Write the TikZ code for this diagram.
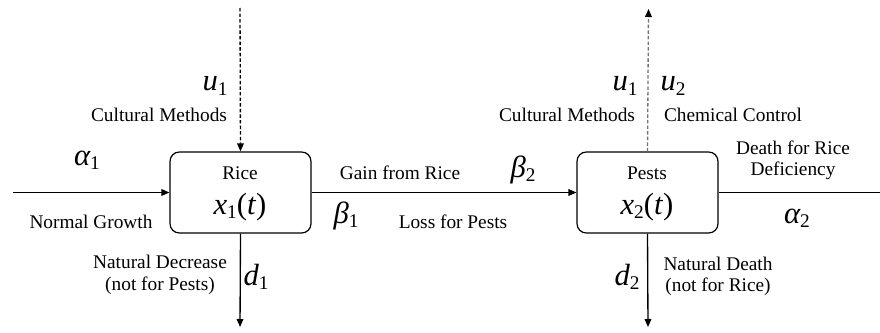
\documentclass[tikz,border=0pt]{standalone}
\usepackage{fontspec}
\setmainfont{Liberation Serif}[ItalicFont={Liberation Serif Italic},BoldFont={Liberation Serif Bold}]
\usetikzlibrary{arrows.meta}
\newcommand\lbl{\fontsize{14.5}{16}\selectfont}
\newcommand\mth{\fontsize{23}{25}\selectfont}
\newcommand\vsub[2]{{\mth\itshape #1}\raisebox{-0.5ex}{\fontsize{14.5}{15}\selectfont\upshape #2}}
\begin{document}
\begin{tikzpicture}[x=0.75pt,y=-0.75pt,
  box/.style={draw,line width=0.9pt,rounded corners=7pt,minimum width=105.75pt,minimum height=60.75pt,inner sep=0pt},
  flow/.style={line width=1pt,-{Triangle[length=6pt,width=5pt]}},
  ctl/.style={line width=1pt,dash pattern=on 2.6pt off 1.6pt},
  txt/.style={inner sep=0pt,align=center,font=\lbl}]
\useasboundingbox (0,0) rectangle (880,332);
\node[box] (rice) at (240.5,192.5) {};
\node[box] (pests) at (647.5,192.5) {};
\node[txt] (ricet) at (240,173) {Rice};
\node[txt] (ricex) at (240,207) {\vsub{x}{1}{\mth(\textit{t})}};
\node[txt] (pestt) at (647,173) {Pests};
\node[txt] (pestx) at (647,207) {\vsub{x}{2}{\mth(\textit{t})}};
\coordinate (lin) at (13,192.5);
\coordinate (rout) at (880,192.5);
\coordinate (ctop) at (240,8);
\coordinate (ptop) at (648.5,9);
\coordinate (rbot) at (240,327);
\coordinate (pbot) at (648,327);
\draw[flow] (lin) -- (rice.west);
\draw[flow] (rice.east) -- (pests.west);
\draw[line width=1pt] (pests.east) -- (rout);
\draw[ctl,-{Triangle[length=6pt,width=5pt]}] (ctop) -- (rice.north);
\draw[ctl,draw=black!55,-{Triangle[length=6pt,width=5pt,color=black]}] (pests.north) -- (ptop);
\draw[flow] (rice.south) -- (rbot);
\draw[flow] (pests.south) -- (pbot);
% labels
\node[txt] (u1a) at (215,86) {\vsub{u}{1}};
\node[txt] (cm1) at (159,115) {Cultural Methods};
\node[txt] (u1b) at (625,86) {\vsub{u}{1}};
\node[txt] (u2) at (673,86) {\vsub{u}{2}};
\node[txt] (cm2) at (567,115) {Cultural Methods};
\node[txt] (cc) at (733,115) {Chemical Control};
\node[txt] (a1) at (87,160) {\vsub{α}{1}};
\node[txt] (ng) at (91,222) {Normal Growth};
\node[txt] (gain) at (400,173) {Gain from Rice};
\node[txt] (b1) at (346,216) {\vsub{β}{1}};
\node[txt] (b2) at (523,170) {\vsub{β}{2}};
\node[txt] (loss) at (453,222) {Loss for Pests};
\node[txt] (death) at (793,160.5) {Death for Rice\\Deficiency};
\node[txt] (a2) at (797,218) {\vsub{α}{2}};
\node[txt] (nd1) at (160,275) {Natural Decrease\\(not for Pests)};
\node[txt] (d1) at (256,277) {\vsub{d}{1}};
\node[txt] (d2) at (627,277) {\vsub{d}{2}};
\node[txt] (nd2) at (718,276.5) {Natural Death\\(not for Rice)};
\end{tikzpicture}
\end{document}
